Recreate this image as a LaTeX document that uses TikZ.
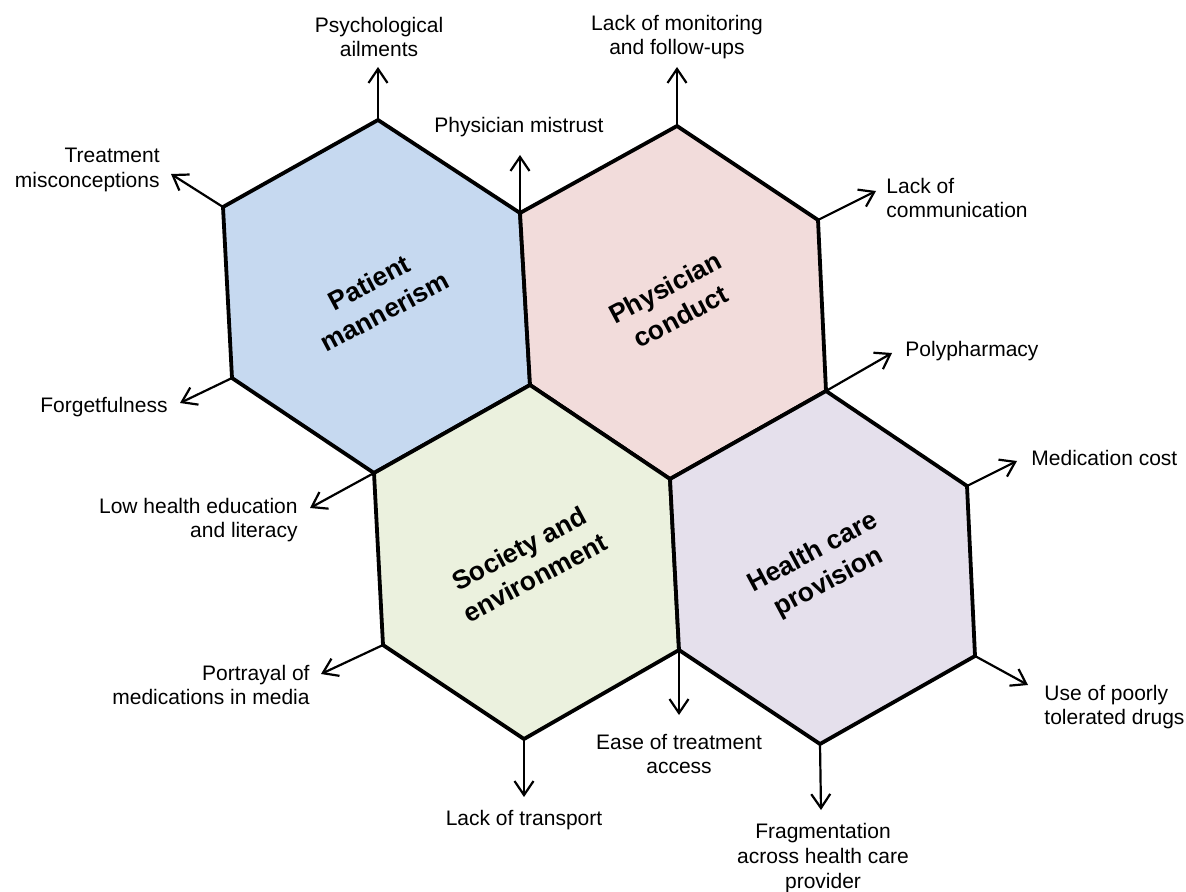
\documentclass[tikz,border=0pt]{standalone}
\usepackage{fontspec}
\setmainfont{Liberation Sans}
\usepackage{xcolor}
\usepackage{tikz}
\usetikzlibrary{arrows.meta}

\definecolor{pmblue}{RGB}{198,217,240}
\definecolor{pcpink}{RGB}{242,220,219}
\definecolor{segreen}{RGB}{235,241,222}
\definecolor{hcpurple}{RGB}{229,224,236}

\tikzset{
  hexline/.style={draw=black, line width=1.9pt, line join=miter},
  hextext/.style={font=\fontsize{13.2}{16.5}\selectfont\bfseries, align=center, rotate=28, inner sep=0pt},
  causetext/.style={font=\fontsize{10.5}{12.4}\selectfont, inner sep=0pt},
  causearrow/.style={line width=1.1pt, -{Straight Barb[length=7pt,width=9.5pt,line width=1.1pt]}}
}

\begin{document}
\begin{tikzpicture}[x=0.5pt,y=-0.5pt]
        \useasboundingbox (0,0) rectangle (1186,892);

        \coordinate (a1) at (378,120);
        \coordinate (a2) at (520,213);
        \coordinate (a3) at (530,385);
        \coordinate (a4) at (374,473);
        \coordinate (a5) at (232,378);
        \coordinate (a6) at (223,207);
        \coordinate (b1) at (677,126);
        \coordinate (b2) at (818,220);
        \coordinate (b3) at (826,391);
        \coordinate (b4) at (670,479);
        \coordinate (c1) at (679,650);
        \coordinate (c2) at (524,739);
        \coordinate (c3) at (383,645);
        \coordinate (d1) at (967,486);
        \coordinate (d2) at (975,656);
        \coordinate (d3) at (820,744);

        \filldraw[hexline, fill=pmblue] (a1) -- (a2) -- (a3) -- (a4) -- (a5) -- (a6) -- cycle;
        \filldraw[hexline, fill=pcpink] (b1) -- (b2) -- (b3) -- (b4) -- (a3) -- (a2) -- cycle;
        \filldraw[hexline, fill=segreen] (a3) -- (b4) -- (c1) -- (c2) -- (c3) -- (a4) -- cycle;
        \filldraw[hexline, fill=hcpurple] (b3) -- (d1) -- (d2) -- (d3) -- (c1) -- (b4) -- cycle;

        \node[hextext] (patient) at (377,297) {Patient\\mannerism};
        \node[hextext] (physician) at (673,302) {Physician\\conduct};
        \node[hextext] (society) at (527,563) {Society and\\environment};
        \node[hextext] (provision) at (821,568) {Health care\\provision};

        \node[causetext, align=center] (psych) at (379,37) {Psychological\\ailments};
        \node[causetext, align=center] (monitor) at (677,37) {Lack of monitoring\\and follow-ups};
        \node[causetext] (mistrust) at (519,127) {Physician mistrust};
        \node[causetext, align=right, anchor=east] (miscon) at (160,170) {Treatment\\misconceptions};
        \node[causetext, align=left, anchor=west] (commun) at (886,198) {Lack of\\communication};
        \node[causetext, anchor=west] (polyph) at (905,351) {Polypharmacy};
        \node[causetext, anchor=east] (forget) at (168,407) {Forgetfulness};
        \node[causetext, anchor=west] (cost) at (1031,458) {Medication cost};
        \node[causetext, align=right, anchor=east] (literacy) at (298,520) {Low health education\\and literacy};
        \node[causetext, align=right, anchor=east] (media) at (310,685) {Portrayal of\\medications in media};
        \node[causetext, align=left, anchor=west] (drugs) at (1044,707) {Use of poorly\\tolerated drugs};
        \node[causetext, align=center] (access) at (679,754) {Ease of treatment\\access};
        \node[causetext] (transport) at (524,820) {Lack of transport};
        \node[causetext, align=center] (fragment) at (823,858) {Fragmentation\\across health care\\provider};

        \coordinate (psych-tip) at (378,67);
        \coordinate (monitor-tip) at (677,67);
        \coordinate (mistrust-tip) at (520,155);
        \coordinate (miscon-tip) at (171,174);
        \coordinate (commun-tip) at (876,191);
        \coordinate (polyph-tip) at (892,353);
        \coordinate (forget-tip) at (180,403);
        \coordinate (cost-tip) at (1017,461);
        \coordinate (literacy-tip) at (310,508);
        \coordinate (media-tip) at (321,674);
        \coordinate (drugs-tip) at (1028,685);
        \coordinate (access-tip) at (679,715);
        \coordinate (transport-tip) at (524,797);
        \coordinate (fragment-tip) at (821,810);

        \draw[causearrow] (a1) -- (psych-tip);
        \draw[causearrow] (b1) -- (monitor-tip);
        \draw[causearrow] (a2) -- (mistrust-tip);
        \draw[causearrow] (a6) -- (miscon-tip);
        \draw[causearrow] (b2) -- (commun-tip);
        \draw[causearrow] (b3) -- (polyph-tip);
        \draw[causearrow] (a5) -- (forget-tip);
        \draw[causearrow] (d1) -- (cost-tip);
        \draw[causearrow] (a4) -- (literacy-tip);
        \draw[causearrow] (c3) -- (media-tip);
        \draw[causearrow] (d2) -- (drugs-tip);
        \draw[causearrow] (c1) -- (access-tip);
        \draw[causearrow] (c2) -- (transport-tip);
        \draw[causearrow] (d3) -- (fragment-tip);
    \end{tikzpicture}
\end{document}
